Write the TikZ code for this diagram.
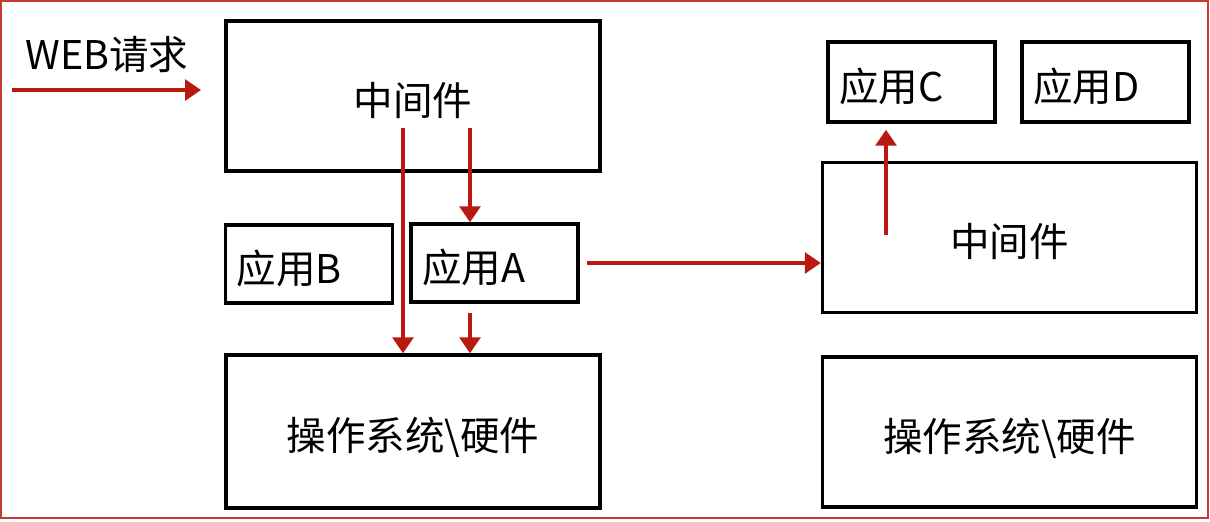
\documentclass[tikz,border=0pt]{standalone}
\usepackage{fontspec}
\newfontfamily\cjk{Noto Sans CJK SC}
\usetikzlibrary{positioning, arrows.meta, calc}
\definecolor{cR}{RGB}{185,25,15}

\begin{document}
\begin{tikzpicture}[x=0.02cm, y=-0.02cm,
    box/.style={draw, line width=2pt, inner sep=0pt, text height=23pt, text depth=1.3pt,
        font=\cjk\fontsize{22.5}{26}\selectfont},
    layer/.style={box, minimum width=7.48cm, minimum height=3cm},
    app/.style={box, minimum height=1.56cm, text width=2.9cm, inner xsep=0.22cm, align=left},
    req/.style={draw=cR, line width=1.8pt, -{Triangle[length=0.32cm, width=0.42cm]}}]

    \useasboundingbox (0,0) rectangle (1210,521);
    \draw[cR!85, line width=0.6pt] (1,1) rectangle (1208,518);

    % --- Left server ---
    \node[layer] (mwL) at (413,96) {中间件};
    \node[app] (appB) at (309,264) {应用B};
    \node[app] (appA) at (494.5,263) {应用A};
    \node[layer, minimum height=3.06cm] (osL) at (413,431.5) {操作系统\textbackslash 硬件};

    % --- Right server ---
    \node[layer] (mwR) at (1009.5,237.5) {中间件};
    \node[app, minimum height=1.6cm] (appC) at (911.5,82) {应用C};
    \node[app, minimum height=1.6cm] (appD) at (1105.5,82) {应用D};
    \node[layer] (osR) at (1009.5,432) {操作系统\textbackslash 硬件};

    % --- Request ---
    \node[font=\cjk\fontsize{22.5}{26}\selectfont] (web) at (107,55) {WEB请求};
    \coordinate (w0) at (12,90);
    \coordinate (w1) at (201,90);
    \draw[req] (w0) -- (w1);

    % --- Calls ---
    \coordinate (s1) at (403,128);
    \coordinate (s2) at (470,128);
    \coordinate (s3) at (886,235);
    \draw[req] (s1) -- (s1 |- osL.north);
    \draw[req] (s2) -- (s2 |- appA.north);
    \draw[req, shorten <=0.18cm] (s2 |- appA.south) -- (s2 |- osL.north);
    \draw[req, shorten <=0.14cm] (appA.east) -- (appA.east -| mwR.west);
    \draw[req, shorten >=0.12cm] (s3) -- (s3 |- appC.south);

\end{tikzpicture}
\end{document}
